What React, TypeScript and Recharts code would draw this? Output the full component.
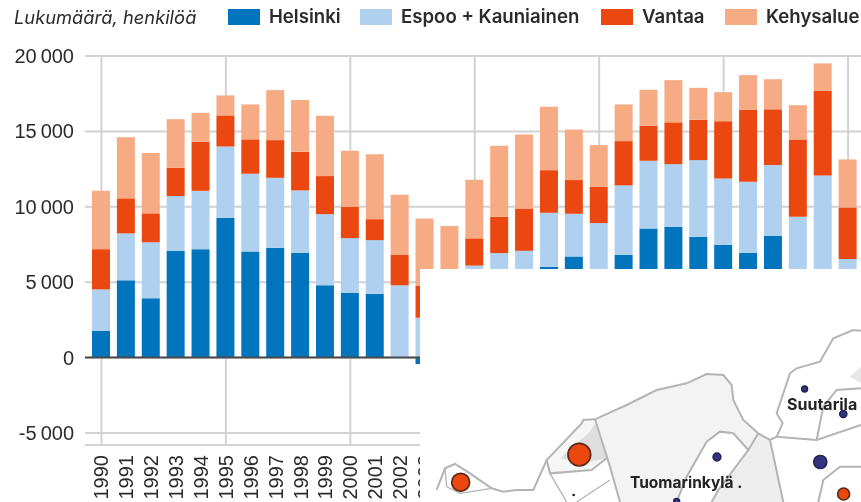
import { BarChart, Bar, XAxis, YAxis, CartesianGrid, Legend, ReferenceLine } from 'recharts';

const years = [
    '1990', '1991', '1992', '1993', '1994', '1995', '1996', '1997', '1998', '1999', '2000',
    '2001', '2002', '2003', '2004', '2005', '2006', '2007', '2008', '2009', '2010',
    '2011', '2012', '2013', '2014', '2015', '2016', '2017', '2018', '2019', '2020',
];
const helsinki = [1760, 5120, 3930, 7060, 7190, 9270, 7040, 7280, 6950, 4790, 4300, 4230, 0, -430, -300, 1200, 2200, 3500, 6020, 6710, 4500, 6800, 8565, 8675, 8010, 7480, 6950, 8080, 3000, 4000, 1500];
const espooKauniainen = [2760, 3115, 3715, 3650, 3870, 4730, 5150, 4640, 4135, 4725, 3625, 3560, 4790, 2640, 2000, 4900, 4730, 3580, 3580, 2825, 4420, 4620, 4485, 4155, 5085, 4400, 4710, 4690, 6340, 8080, 5030];
const vantaa = [2670, 2325, 1920, 1880, 3250, 2060, 2280, 2500, 2560, 2520, 2075, 1390, 2010, 2120, 2500, 1805, 2410, 2810, 2830, 2235, 2405, 2935, 2320, 2770, 2675, 3800, 4770, 3690, 5130, 5610, 3430];
const kehysalue = [3870, 4045, 4000, 3220, 1920, 1325, 2320, 3320, 3445, 3995, 3710, 4310, 3995, 4470, 4220, 3885, 4700, 4910, 4200, 3360, 2765, 2435, 2390, 2800, 2120, 1920, 2300, 2000, 2270, 1820, 3180];
const yTicks = [-5000, 0, 5000, 10000, 15000, 20000];
const gridYears = ['1990', '1995', '2000', '2005', '2010', '2015', '2020'];
const seriesNames = ['Helsinki', 'Espoo + Kauniainen', 'Vantaa', 'Kehysalue'];
const seriesColors = ['#0075BE', '#AFD0EE', '#EB4710', '#F6AB84'];

const data = years.map((year, i) => ({
    year,
    Helsinki: helsinki[i],
    'Espoo + Kauniainen': espooKauniainen[i],
    Vantaa: vantaa[i],
    Kehysalue: kehysalue[i],
}));

const legendLeft = [228, 360, 601, 725];
const textColor = '#2b2b2b';
const gridColor = '#d2d2d2';

const formatTick = (v: number) => String(v).replace(/\B(?=(\d{3})+$)/g, '\u2009');

const YearTick = ({ x, y, payload }: any) => (
    <text
        transform={`rotate(-90 ${x} ${y})`}
        x={x}
        y={y}
        dy={7}
        textAnchor="end"
        fontSize={20}
        fontFamily="Liberation Sans"
        fill={textColor}
    >
        {payload.value}
    </text>
);

const TopLegend = () => (
    <div style={{ position: 'relative', width: 861, height: 36 }}>
        <span style={{ position: 'absolute', left: 14, top: 6, fontSize: 18.3, fontStyle: 'italic', fontFamily: 'Inter', color: textColor, whiteSpace: 'nowrap' }}>
            Lukumäärä, henkilöä
        </span>
        {seriesNames.map((name, i) => (
            <span key={name}>
                <span style={{ position: 'absolute', left: legendLeft[i], top: 9, width: 32, height: 16, background: seriesColors[i] }} />
                <span style={{ position: 'absolute', left: legendLeft[i] + 41, top: 5, fontSize: 18.6, fontWeight: 600, fontFamily: 'Inter', color: textColor, whiteSpace: 'nowrap' }}>
                    {name}
                </span>
            </span>
        ))}
    </div>
);

// the map clipping that sits over the lower right of the chart, drawn in zoomed units
const MapOverlay = () => (
    <svg width={861} height={502} style={{ position: 'absolute', left: 0, top: 0 }}>
        <rect x={420} y={269} width={441} height={233} fill="#fff" />
        <g transform="translate(410 260) scale(0.3333)" fill="none" stroke="#b4b4b4" strokeWidth={6}>
            <path stroke="none" fill="#f3f3f3" d="M555 478 L650 435 L740 390 L830 370 L890 342 L940 345 L965 375 L970 420 L1000 480 L1045 520 L1015 570 L970 520 L930 515 L890 545 L830 650 L800 726 L630 726 L600 620 Z" />
            <path stroke="none" fill="#eeeeee" d="M1045 520 L1080 540 L1120 726 L905 726 L925 690 L1015 570 Z" />
            <path stroke="none" fill="#f6f6f6" d="M410 600 L515 490 L555 480 L590 595 L545 630 L420 640 Z" />
            <path stroke="none" fill="#dedede" d="M450 595 L540 515 L555 490 L590 595 L520 610 Z" />
            <path stroke="none" fill="#e6e6e6" d="M1320 350 L1353 320 L1353 370 Z" />
            <path d="M80 690 L105 625 L135 612 L180 640 L245 685 L280 695 L320 690 L370 690 L410 600 L515 490 L520 480 L555 478 L650 435 L740 390 L830 370 L890 342 L940 345 L965 375 L970 420 L1000 480 L1045 520 L1080 540 L1100 530 L1118 490 L1100 460 L1140 340 L1160 325 L1230 305 L1270 235 L1330 210 L1353 212" />
            <path d="M555 478 L600 620 L630 726" />
            <path d="M410 600 L420 640 L545 630 L590 595" />
            <path d="M1045 520 L1015 570 L970 520 L930 515 L890 545 L830 650 L800 726" />
            <path d="M1015 570 L925 690 L905 726" />
            <path d="M1080 540 L1120 726" />
            <path d="M1100 530 L1220 540 L1353 495" />
            <path d="M1220 540 L1240 440 L1280 390 L1353 385" />
            <path d="M1353 620 L1290 620 L1240 660 L1225 726" />
            <path d="M420 640 L470 726 M600 660 L500 726 M245 685 L150 700 L110 680 L105 625" strokeWidth={4} />
            <g stroke="#1f1f4f" strokeWidth={4} fill="#33337f">
                <circle cx={921} cy={591} r={12} />
                <circle cx={1231} cy={606} r={20} />
                <circle cx={1184} cy={387} r={9} />
                <circle cx={1300} cy={462} r={11} />
                <circle cx={800} cy={724} r={9} />
            </g>
            <circle cx={491} cy={705} r={4} fill="#222" stroke="none" />
            <g stroke="#5c2a18" strokeWidth={5} fill="#EB4710">
                <circle cx={508} cy={584} r={34} />
                <circle cx={152} cy={667} r={27} />
                <circle cx={1301} cy={702} r={18} />
            </g>
        </g>
        <text x={787} y={410} fontSize={16} fontWeight={700} fontFamily="Inter" fill="#222">Suutarila</text>
        <text x={630} y={488} fontSize={15.5} fontWeight={700} fontFamily="Inter" fill="#222">Tuomarinkylä .</text>
    </svg>
);

const App = () => (
    <div style={{ position: 'relative', width: 861, height: 502, overflow: 'hidden', background: '#fff', filter: 'blur(0.4px)' }}>
        <style>{'html, body { margin: 0; padding: 0; }'}</style>
        <BarChart
            width={861}
            height={502}
            data={data}
            stackOffset="sign"
            margin={{ top: 56, right: 0, left: 0, bottom: 0 }}
        >
            <CartesianGrid stroke={gridColor} strokeWidth={2} verticalValues={gridYears} />
            <XAxis
                dataKey="year"
                height={57}
                interval={0}
                axisLine={false}
                tickLine={false}
                tickMargin={4}
                padding={{ left: 4, right: 0.5 }}
                tick={<YearTick />}
            />
            <YAxis
                width={85}
                domain={[-5800, 20000]}
                ticks={yTicks}
                axisLine={false}
                tickLine={false}
                tickMargin={5}
                tickFormatter={formatTick}
                tick={{ fill: textColor, fontSize: 20, fontFamily: 'Liberation Sans' }}
            />
            <Legend layout="horizontal" verticalAlign="middle" align="center" wrapperStyle={{ top: 0, left: 0 }} content={<TopLegend />} />
            {seriesNames.map((name, i) => (
                <Bar key={name} dataKey={name} stackId="a" fill={seriesColors[i]} barSize={18} isAnimationActive={false} />
            ))}
            <ReferenceLine y={0} stroke="#4a4a4a" strokeWidth={2} />
        </BarChart>
        <MapOverlay />
    </div>
);

export default App;
